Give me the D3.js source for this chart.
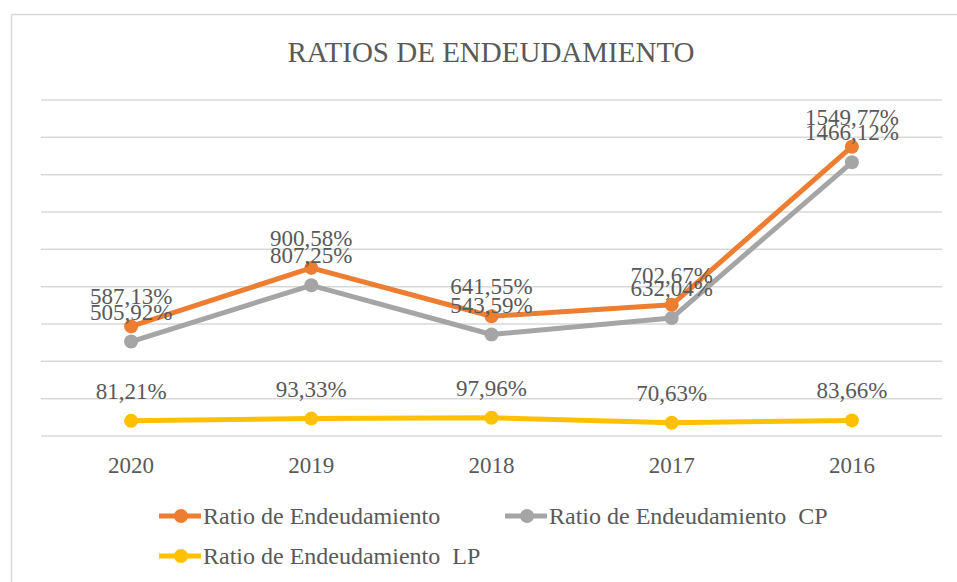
<!DOCTYPE html>
<meta charset="utf-8">

<script src="https://d3js.org/d3.v7.min.js"></script>

<style type="text/css">
  body { margin: 0; background: #fff; }
  text { font-family: "Liberation Serif", "Times New Roman", serif; fill: #595959; white-space: pre; }
</style>

<body>
</body>

<script>

var years = ["2020", "2019", "2018", "2017", "2016"];

var ratioTotal = [587.13, 900.58, 641.55, 702.67, 1549.77];
var ratioCP    = [505.92, 807.25, 543.59, 632.04, 1466.12];
var ratioLP    = [81.21, 93.33, 97.96, 70.63, 83.66];

var seriesNames = ["Ratio de Endeudamiento", "Ratio de Endeudamiento  CP", "Ratio de Endeudamiento  LP"];
var seriesColors = ["#ED7D31", "#A5A5A5", "#FFC000"];

var yTicks = d3.range(0, 1801, 200);

var width = 957, height = 582;
var margin = {top: 100, right: 15, bottom: 146, left: 41};

var svg = d3.select("body").append("svg")
    .attr("width", width)
    .attr("height", height);

// chart frame
svg.append("rect")
    .attr("x", 11.5)
    .attr("y", 14.5)
    .attr("width", 990)
    .attr("height", 600)
    .attr("fill", "none")
    .attr("stroke", "#D9D9D9")
    .attr("stroke-width", 1.5);

svg.append("text")
    .attr("x", 491)
    .attr("y", 62)
    .attr("text-anchor", "middle")
    .style("font-size", "29px")
    .text("RATIOS DE ENDEUDAMIENTO");

var x = d3.scalePoint()
    .domain(years)
    .range([margin.left, width - margin.right])
    .padding(0.5);

var y = d3.scaleLinear()
    .domain([0, 1800])
    .range([436, margin.top]);

// gridlines
svg.append("g")
  .selectAll("line")
    .data(yTicks)
  .enter().append("line")
    .attr("x1", margin.left)
    .attr("x2", width - margin.right)
    .attr("y1", function(d) { return y(d); })
    .attr("y2", function(d) { return y(d); })
    .attr("stroke", "#D9D9D9")
    .attr("stroke-width", 1.5);

// category axis labels
svg.append("g")
  .selectAll("text")
    .data(years)
  .enter().append("text")
    .attr("x", function(d) { return x(d); })
    .attr("y", 473)
    .attr("text-anchor", "middle")
    .style("font-size", "23px")
    .text(function(d) { return d; });

var series = [ratioTotal, ratioCP, ratioLP];

var line = d3.line()
    .x(function(d, i) { return x(years[i]); })
    .y(function(d) { return y(d); });

function fmt(v) { return v.toFixed(2).replace(".", ",") + "%"; }

series.forEach(function(vals, s) {
  var g = svg.append("g");
  g.append("path")
      .datum(vals)
      .attr("d", line)
      .attr("fill", "none")
      .attr("stroke", seriesColors[s])
      .attr("stroke-width", 5)
      .attr("stroke-linejoin", "round");
  g.selectAll("circle")
      .data(vals)
    .enter().append("circle")
      .attr("cx", function(d, i) { return x(years[i]); })
      .attr("cy", function(d) { return y(d); })
      .attr("r", 7)
      .attr("fill", seriesColors[s]);
});

// data labels drawn after lines
series.forEach(function(vals, s) {
  svg.append("g")
    .selectAll("text")
      .data(vals)
    .enter().append("text")
      .attr("x", function(d, i) { return x(years[i]); })
      .attr("y", function(d) { return y(d) - 22; })
      .attr("text-anchor", "middle")
      .style("font-size", "23px")
      .text(fmt);
});

// legend
var legendPos = [[181, 516], [527, 516], [181, 556]];

var legend = svg.append("g")
  .selectAll("g")
    .data(seriesNames)
  .enter().append("g")
    .attr("transform", function(d, i) { return "translate(" + legendPos[i][0] + "," + legendPos[i][1] + ")"; });

legend.append("line")
    .attr("x1", -22)
    .attr("x2", 20)
    .attr("stroke", function(d, i) { return seriesColors[i]; })
    .attr("stroke-width", 5);

legend.append("circle")
    .attr("r", 7)
    .attr("fill", function(d, i) { return seriesColors[i]; });

legend.append("text")
    .attr("x", 22)
    .attr("y", 8)
    .style("font-size", "24px")
    .text(function(d) { return d; });

</script>
